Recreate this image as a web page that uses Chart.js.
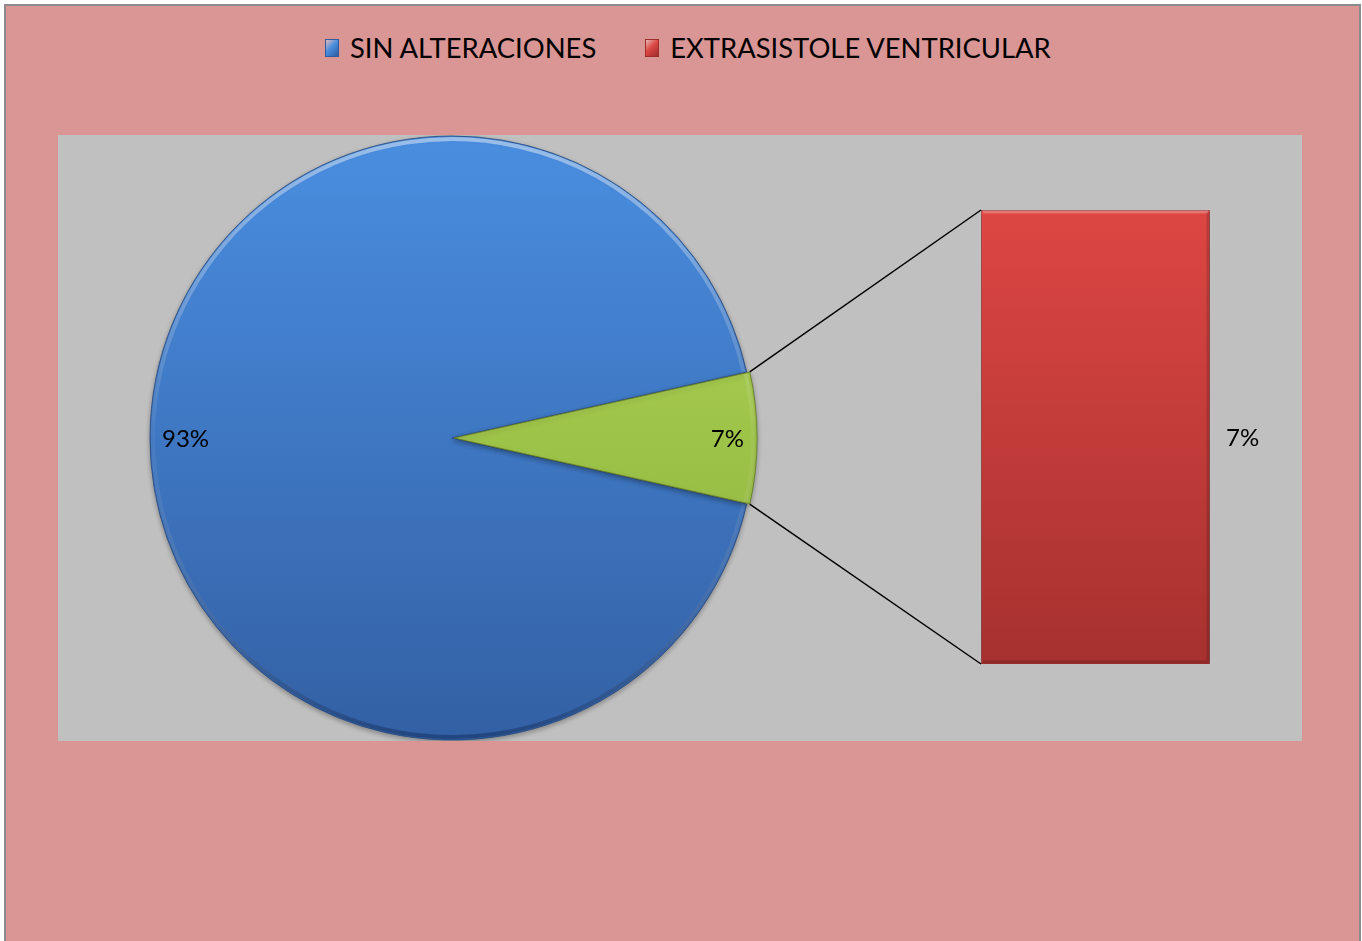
<!DOCTYPE html>
<html>
<head>
<meta charset="utf-8">
<title>Distribución ECG</title>
<script src="https://cdn.jsdelivr.net/npm/chart.js@4"></script>
<style>
  body { margin: 0; background: #ffffff; }
  #frame {
    position: absolute; left: 4px; top: 4px;
    width: 1353px; height: 940px;
    border: 2px solid #8c8c8c; border-bottom: none;
    background: #d99694; overflow: hidden;
  }
  #legend {
    position: absolute; left: 319px; top: 25px;
    display: flex; align-items: center;
    font-family: Lato, sans-serif; font-size: 27.4px; color: #000;
    white-space: nowrap;
  }
  #legend .item { display: flex; align-items: center; }
  #legend .item + .item { margin-left: 49px; }
  #legend .box { flex: 0 0 14px; width: 14px; height: 18px; margin-right: 11px; box-sizing: border-box; }
  #plot {
    position: absolute; left: 52px; top: 129px;
    width: 1244px; height: 606px; background: #c0c0c0;
  }
  #plot canvas { position: absolute; left: 0; top: 0; }
  #pie { z-index: 2; }
  #bar { z-index: 1; }
</style>
</head>
<body>
<div id="frame">
  <div id="legend"></div>
  <div id="plot">
    <canvas id="bar" width="1244" height="606"></canvas>
    <canvas id="pie" width="1244" height="606"></canvas>
  </div>
</div>
<script>
// pie: main category plus the share that is broken out into the bar
const pieLabels = ['SIN ALTERACIONES', 'Otros'];
const pieValues = [93, 7];
// bar: breakdown of the "Otros" share
const barLabels = ['EXTRASISTOLE VENTRICULAR'];
const barValues = [7];

const pieColors = [['#4a8ee0', '#3360a4'], ['#b2d85a', '#8aae38']];
const barColors = [['#dd4643', '#a6312f']];

const total = pieValues.reduce((a, b) => a + b, 0);
const pct = v => Math.round(v / total * 100) + '%';

function vGradient(chart, top, bottom, stops) {
  const g = chart.ctx.createLinearGradient(0, top, 0, bottom);
  g.addColorStop(0, stops[0]);
  g.addColorStop(1, stops[1]);
  return g;
}

// legend built from the same names the charts use
const legendEl = document.getElementById('legend');
[[pieLabels[0], ['#4a8ee0', '#2f5c9c']], [barLabels[0], ['#dd4643', '#9c2d2b']]].forEach(([text, c]) => {
  const item = document.createElement('span');
  item.className = 'item';
  item.innerHTML = `<span class="box" style="background:linear-gradient(135deg, #ffffff55, ${c[0]} 45%, ${c[1]});border:1px solid ${c[1]}"></span><span>${text}</span>`;
  legendEl.appendChild(item);
});

const pieLabelPlugin = {
  id: 'pieLabels',
  beforeDatasetsDraw(chart) {
    const ctx = chart.ctx;
    ctx.save();
    ctx.shadowColor = 'rgba(0,0,0,0.3)';
    ctx.shadowBlur = 5;
    ctx.shadowOffsetY = 2;
  },
  afterDatasetsDraw(chart) {
    const ctx = chart.ctx;
    ctx.restore();
    const meta = chart.getDatasetMeta(0);

    // soft bevel along each slice rim
    meta.data.forEach(arc => {
      const mid = (arc.startAngle + arc.endAngle) / 2;
      const shift = (arc.options.offset || 0) / 4;
      const cx = arc.x + Math.cos(mid) * shift;
      const cy = arc.y + Math.sin(mid) * shift;
      const r = arc.outerRadius;
      const g = ctx.createLinearGradient(0, cy - r, 0, cy + r);
      g.addColorStop(0, 'rgba(255,255,255,0.45)');
      g.addColorStop(0.5, 'rgba(255,255,255,0.05)');
      g.addColorStop(1, 'rgba(0,20,60,0.35)');
      ctx.save();
      ctx.strokeStyle = g;
      ctx.lineWidth = 4;
      ctx.beginPath();
      ctx.arc(cx, cy, r - 3, arc.startAngle + 0.004, arc.endAngle - 0.004);
      ctx.stroke();
      ctx.restore();
    });

    ctx.save();
    ctx.font = '24px Lato';
    ctx.fillStyle = '#000';
    ctx.textAlign = 'center';
    meta.data.forEach((arc, i) => {
      const text = pct(pieValues[i]);
      const mid = (arc.startAngle + arc.endAngle) / 2;
      const shift = (arc.options.offset || 0) / 4;
      const w = ctx.measureText(text).width;
      const dist = arc.outerRadius + shift - 12 - w / 2;
      ctx.fillText(text, arc.x + Math.cos(mid) * dist, arc.y + Math.sin(mid) * dist + 8.6);
    });
    ctx.restore();
  }
};

const pieChart = new Chart(document.getElementById('pie'), {
  type: 'pie',
  data: {
    labels: pieLabels,
    datasets: [{
      data: pieValues,
      backgroundColor(c) {
        const area = c.chart.chartArea;
        if (!area) return pieColors[c.dataIndex][0];
        return vGradient(c.chart, area.top, area.bottom, pieColors[c.dataIndex]);
      },
      borderColor: ['rgba(35,70,125,0.8)', 'rgba(95,120,35,0.8)'],
      borderWidth: 1,
      offset: [0, 8]
    }]
  },
  options: {
    responsive: false,
    animation: false,
    radius: 302,
    // the broken-out slice is centred on 3 o'clock
    rotation: 90 + 360 * pieValues[1] / total / 2,
    layout: { padding: { right: 456 } },
    plugins: { legend: { display: false }, tooltip: { enabled: false } }
  },
  plugins: [pieLabelPlugin]
});

const barPlugin = {
  id: 'barExtras',
  beforeDatasetsDraw(chart) {
    const ctx = chart.ctx;
    ctx.save();
    ctx.shadowColor = 'rgba(0,0,0,0.35)';
    ctx.shadowBlur = 6;
    ctx.shadowOffsetY = 3;
  },
  afterDatasetsDraw(chart) {
    const ctx = chart.ctx;
    ctx.restore();
    const bar = chart.getDatasetMeta(0).data[0];
    const left = bar.x - bar.width / 2;
    const right = bar.x + bar.width / 2;

    // connector lines from the broken-out slice to the bar corners
    const arc = pieChart.getDatasetMeta(0).data[1];
    const mid = (arc.startAngle + arc.endAngle) / 2;
    const shift = (arc.options.offset || 0) / 4;
    const cx = arc.x + Math.cos(mid) * shift;
    const cy = arc.y + Math.sin(mid) * shift;
    const r = arc.outerRadius + 1;
    ctx.save();
    ctx.strokeStyle = '#000';
    ctx.lineWidth = 1.5;
    ctx.beginPath();
    ctx.moveTo(cx + Math.cos(arc.startAngle) * r, cy + Math.sin(arc.startAngle) * r);
    ctx.lineTo(left, bar.y);
    ctx.moveTo(cx + Math.cos(arc.endAngle) * r, cy + Math.sin(arc.endAngle) * r);
    ctx.lineTo(left, bar.base);
    ctx.stroke();

    // bevel highlight on the bar
    ctx.strokeStyle = 'rgba(255,255,255,0.25)';
    ctx.lineWidth = 3;
    ctx.beginPath();
    ctx.moveTo(left + 2, bar.y + 2);
    ctx.lineTo(right - 2, bar.y + 2);
    ctx.stroke();
    ctx.strokeStyle = 'rgba(0,0,0,0.15)';
    ctx.beginPath();
    ctx.moveTo(right - 2, bar.y + 2);
    ctx.lineTo(right - 2, bar.base - 2);
    ctx.lineTo(left + 2, bar.base - 2);
    ctx.stroke();

    ctx.font = '24px Lato';
    ctx.fillStyle = '#000';
    ctx.textAlign = 'left';
    ctx.fillText(pct(barValues[0]), right + 16, (bar.y + bar.base) / 2 + 8.6);
    ctx.restore();
  }
};

const barChart = new Chart(document.getElementById('bar'), {
  type: 'bar',
  data: {
    labels: ['Otros'],
    datasets: [{
      label: barLabels[0],
      data: barValues,
      backgroundColor(c) {
        const area = c.chart.chartArea;
        if (!area) return barColors[0][0];
        return vGradient(c.chart, area.top, area.bottom, barColors[0]);
      },
      borderColor: 'rgba(120,30,30,0.6)',
      borderWidth: 1,
      barPercentage: 1,
      categoryPercentage: 1
    }]
  },
  options: {
    responsive: false,
    animation: false,
    layout: { padding: { left: 923, right: 92, top: 75, bottom: 77 } },
    scales: {
      x: { display: false, stacked: true },
      y: { display: false, stacked: true, min: 0, max: barValues.reduce((a, b) => a + b, 0) }
    },
    plugins: { legend: { display: false }, tooltip: { enabled: false } }
  },
  plugins: [barPlugin]
});
</script>
</body>
</html>
